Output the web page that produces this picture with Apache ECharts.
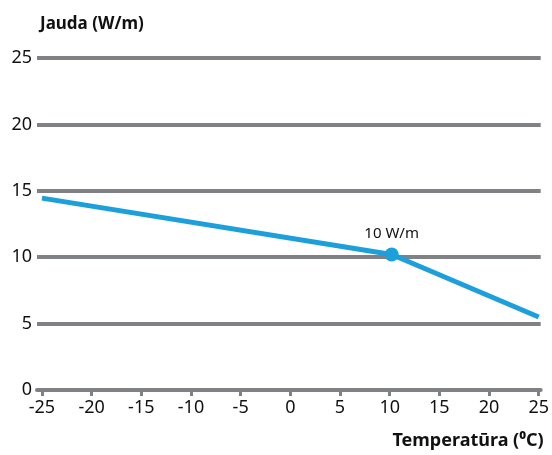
<!DOCTYPE html>
<html>
<head>
<meta charset="utf-8">
<script src="https://cdn.jsdelivr.net/npm/echarts@6/dist/echarts.min.js"></script>
<style>
  html, body { margin: 0; padding: 0; background: #fff; }
  #chart { width: 552px; height: 455px; }
</style>
</head>
<body>
<div id="chart"></div>
<script>
const temps = [-25, 10.2, 25];
const power = [14.45, 10.2, 5.5];
const pointLabel = "10 W/m";
const markedIndex = 1;
const xTicks = [-25, -20, -15, -10, -5, 0, 5, 10, 15, 20, 25];
const yTicks = [0, 5, 10, 15, 20, 25];

const font = "'Noto Sans', sans-serif";
const gray = "#808184";
const blue = "#1c9fdb";

const chart = echarts.init(document.getElementById("chart"));

const seriesData = temps.map((t, i) => {
  if (i !== markedIndex) return { value: [t, power[i]], symbol: "none" };
  return {
    value: [t, power[i]],
    symbol: "circle",
    symbolSize: 14,
    label: {
      show: true,
      position: "top",
      distance: 6,
      formatter: pointLabel,
      fontFamily: font,
      fontSize: 15,
      color: "#111",
    },
  };
});

chart.setOption({
  animation: false,
  grid: { left: 37, right: 8, top: 58, bottom: 65 },
  xAxis: {
    type: "value",
    min: -25.5,
    max: 25.2,
    name: "Temperatūra (⁰C)",
    nameLocation: "end",
    nameGap: 3,
    nameTextStyle: {
      fontFamily: font,
      fontWeight: "bold",
      fontSize: 18,
      color: "#111",
      align: "right",
      verticalAlign: "top",
      padding: [42, 0, 0, 0],
    },
    axisLine: { show: true, onZero: false, lineStyle: { color: gray, width: 4 } },
    axisTick: {
      show: true,
      inside: false,
      length: 6,
      customValues: xTicks,
      lineStyle: { color: gray, width: 3 },
    },
    axisLabel: {
      customValues: xTicks,
      margin: 9,
      fontFamily: font,
      fontSize: 18,
      color: "#111",
    },
    splitLine: { show: false },
  },
  yAxis: {
    type: "value",
    min: 0,
    max: 25,
    interval: 5,
    name: "Jauda (W/m)",
    nameLocation: "end",
    nameGap: 25,
    nameTextStyle: {
      fontFamily: font,
      fontWeight: "bold",
      fontSize: 17,
      color: "#111",
      align: "left",
      padding: [0, 0, 0, 3],
    },
    axisLine: { show: false, onZero: false },
    axisTick: { show: false },
    axisLabel: {
      customValues: yTicks,
      margin: 5,
      fontFamily: font,
      fontSize: 18,
      color: "#111",
    },
    splitLine: { show: true, lineStyle: { color: gray, width: 4 } },
  },
  series: [
    {
      type: "line",
      data: seriesData,
      lineStyle: { color: blue, width: 5 },
      itemStyle: { color: blue },
      z: 5,
    },
  ],
});
</script>
</body>
</html>
